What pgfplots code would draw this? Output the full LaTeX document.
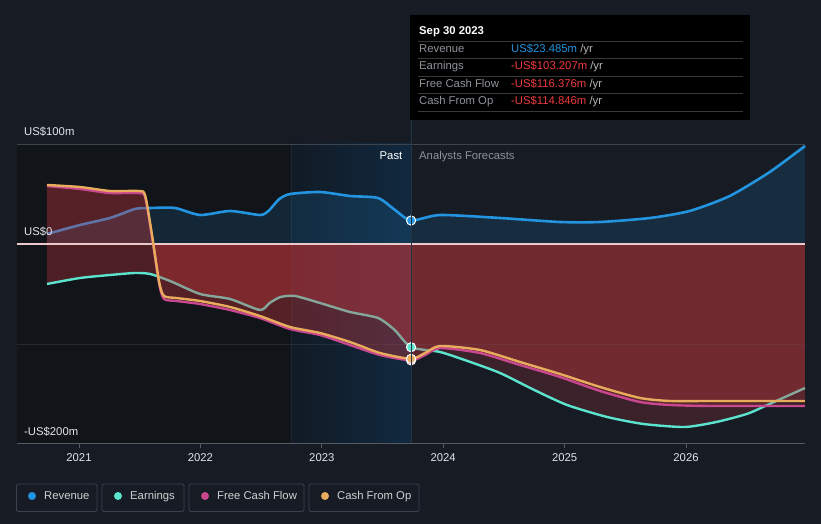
\documentclass[border=0pt]{standalone}
\usepackage{fontspec}
\setmainfont{Liberation Sans}
\usepackage{pgfplots}
\pgfplotsset{compat=1.18}
\definecolor{bg}{HTML}{161B24}
\definecolor{pastdark}{HTML}{111419}
\definecolor{hlL}{HTML}{111A25}
\definecolor{hlR}{HTML}{11293F}
\definecolor{gridc}{HTML}{3E444E}
\definecolor{axisc}{HTML}{555A63}
\definecolor{zeroc}{HTML}{EBC9C9}
\definecolor{revc}{HTML}{2394DF}
\definecolor{earnc}{HTML}{5BE3CE}
\definecolor{fcfc}{HTML}{C8478E}
\definecolor{cfoc}{HTML}{E9AB5C}
\definecolor{redfill}{HTML}{D13A40}
\definecolor{txt}{HTML}{E2E4E8}
\definecolor{gtxt}{HTML}{8E939A}
\definecolor{negc}{HTML}{EE3B3F}
\definecolor{legb}{HTML}{3C424D}

\pgfplotstableread{
x y
2020.736 10
2021.008 19
2021.255 26
2021.46 35
2021.585 36
2021.79 36
2021.997 29
2022.244 33
2022.49 29
2022.56 33
2022.65 45
2022.74 50
2022.985 52
2023.232 48
2023.463 46
2023.603 34
2023.735 23.485
2023.974 29
2024.468 26
2024.962 22
2025.292 22
2025.703 26
2026.03 33
2026.36 48
2026.69 72
2026.98 98
}\revenue

\pgfplotstableread{
x y
2020.736 -40
2021.008 -34
2021.255 -31
2021.46 -29
2021.585 -30
2021.75 -37
2021.997 -50
2022.244 -55
2022.49 -66
2022.57 -59
2022.66 -53
2022.78 -52
2022.985 -59
2023.232 -68
2023.463 -74
2023.6 -86
2023.735 -103.207
2023.974 -108
2024.2 -117
2024.468 -129
2024.75 -146
2025.02 -161
2025.35 -173
2025.65 -180
2025.99 -183
2026.25 -178
2026.5 -170
2026.67 -161
2026.98 -144
}\earnings

\pgfplotstableread{
x y
2020.736 58
2021.008 55
2021.255 51
2021.49 51
2021.544 47
2021.6 8
2021.66 -40
2021.70 -55
2021.8 -57
2021.997 -60
2022.244 -66
2022.49 -74
2022.738 -85
2022.985 -91
2023.232 -101
2023.479 -111
2023.735 -116.376
2023.85 -111
2023.974 -104
2024.303 -109
2024.633 -121
2024.962 -133
2025.292 -147
2025.621 -158
2025.868 -161
2026.2 -162
2026.98 -162
}\fcf

\pgfplotstableread{
x y
2020.736 59
2021.008 57
2021.255 53
2021.49 53
2021.544 49
2021.6 10
2021.66 -38
2021.70 -52
2021.8 -54
2021.997 -57
2022.244 -63
2022.49 -72
2022.738 -83
2022.985 -89
2023.232 -98
2023.479 -109
2023.735 -114.846
2023.85 -109
2023.974 -102
2024.303 -106
2024.633 -118
2024.962 -130
2025.292 -143
2025.621 -154
2025.868 -157
2026.2 -157
2026.98 -157
}\cfo

\begin{document}
\begin{tikzpicture}[font=\fontsize{11.3pt}{13pt}\selectfont]
% ---------- background (pixel coordinates) ----------
\begin{scope}[x=1pt,y=-1pt,yshift=524pt]
\fill[bg] (0,0) rectangle (821,524);
\fill[pastdark] (17,144) rectangle (291,444);
\shade[left color=hlL, right color=hlR] (291,144) rectangle (411,444);
\draw[color=hlL!70!gridc, line width=0.6pt] (291,144) -- (291,444);
\draw[gridc, line width=0.9pt] (17,144) -- (805,144);
\end{scope}

\begin{axis}[at={(0,0)}, anchor=south west, scale only axis,
  width=821pt, height=524pt,
  xmin=2020.349, xmax=2027.112, ymin=-280, ymax=244,
  hide axis, clip=false]
% revenue and earnings fills
\addplot[draw=none, fill=revc, fill opacity=0.15, smooth, tension=0.4] table[x=x,y=y] {\revenue} \closedcycle;
\addplot[draw=none, fill=redfill, fill opacity=0.2, smooth, tension=0.4] table[x=x,y=y] {\earnings} \closedcycle;
% past region: brighter red
\begin{scope}
\clip (axis cs:2020.489,-200) rectangle (axis cs:2023.735,100);
\addplot[draw=none, fill=redfill, fill opacity=0.15, smooth, tension=0.4] table[x=x,y=y] {\earnings} \closedcycle;
\end{scope}
% grid line -100
\draw[color=gridc, opacity=0.45, line width=0.8pt] (axis cs:2020.489,-100) -- (axis cs:2026.98,-100);
% revenue and earnings lines (under the cash flow fills)
\addplot[earnc, line width=2.4pt, smooth, tension=0.4] table[x=x,y=y] {\earnings};
\addplot[revc, line width=2.6pt, smooth, tension=0.4] table[x=x,y=y] {\revenue};
% cash flow fills
\addplot[draw=none, fill=redfill, fill opacity=0.2, smooth, tension=0.4] table[x=x,y=y] {\fcf} \closedcycle;
\addplot[draw=none, fill=redfill, fill opacity=0.2, smooth, tension=0.4] table[x=x,y=y] {\cfo} \closedcycle;
% zero line
\draw[color=zeroc, line width=1.2pt] (axis cs:2020.489,0) -- (axis cs:2026.98,0);
% cash flow lines
\addplot[fcfc, line width=2.4pt, smooth, tension=0.4] table[x=x,y=y] {\fcf};
\addplot[cfoc, line width=2.4pt, smooth, tension=0.4] table[x=x,y=y] {\cfo};
% markers at Sep 30 2023
\addplot[only marks, mark=*, mark size=4.6pt, mark options={fill=revc, draw=white, line width=1pt}] coordinates {(2023.735,23.485)};
\addplot[only marks, mark=*, mark size=4.6pt, mark options={fill=earnc, draw=white, line width=1pt}] coordinates {(2023.735,-103.207)};
\addplot[only marks, mark=*, mark size=4.6pt, mark options={fill=fcfc, draw=white, line width=1pt}] coordinates {(2023.735,-116.376)};
\addplot[only marks, mark=*, mark size=4.6pt, mark options={fill=cfoc, draw=white, line width=1pt}] coordinates {(2023.735,-114.846)};
\end{axis}

% ---------- decorations (pixel coordinates) ----------
\begin{scope}[x=1pt,y=-1pt,yshift=524pt]
% present line
\draw[color=hlR!60!gridc, line width=0.8pt] (411,120) -- (411,444);
% x axis
\draw[axisc, line width=1pt] (17,444) -- (805,444);
\foreach \px/\yr in {79/2021, 200.4/2022, 321.8/2023, 443.2/2024, 564.6/2025, 686/2026}{
  \draw[axisc, line width=0.8pt] (\px,444) -- (\px,448);
  \node[text=txt, anchor=base, inner sep=0pt] at (\px,461.5) {\yr};
}
% y labels
\node[text=txt, anchor=base west, inner sep=0pt] at (24,136) {US\$100m};
\node[text=txt, anchor=base west, inner sep=0pt] at (24,236) {US\$0};
\node[text=txt, anchor=base west, inner sep=0pt] at (24,436) {-US\$200m};
% past / forecast
\node[text=white, anchor=base east, inner sep=0pt] at (402.5,160) {Past};
\node[text=gtxt, anchor=base west, inner sep=0pt] at (419,160) {Analysts Forecasts};
% tooltip
\fill[black] (410,15) rectangle (750,120);
\node[text=white, anchor=base west, inner sep=0pt] at (419,35) {\bfseries Sep 30 2023};
\foreach \yy in {41,58,76,93,111}{\draw[color=white!22!black, line width=0.8pt] (418,\yy) -- (743,\yy);}
\node[text=gtxt, anchor=base west, inner sep=0pt] at (419,53) {Revenue};
\node[text=gtxt, anchor=base west, inner sep=0pt] at (419,70) {Earnings};
\node[text=gtxt, anchor=base west, inner sep=0pt] at (419,88) {Free Cash Flow};
\node[text=gtxt, anchor=base west, inner sep=0pt] at (419,105) {Cash From Op};
\node[anchor=base west, inner sep=0pt] at (511,53) {\textcolor{revc}{US\$23.485m} \textcolor{white!72!black}{/yr}};
\node[anchor=base west, inner sep=0pt] at (511,70) {\textcolor{negc}{-US\$103.207m} \textcolor{white!72!black}{/yr}};
\node[anchor=base west, inner sep=0pt] at (511,88) {\textcolor{negc}{-US\$116.376m} \textcolor{white!72!black}{/yr}};
\node[anchor=base west, inner sep=0pt] at (511,105) {\textcolor{negc}{-US\$114.846m} \textcolor{white!72!black}{/yr}};
% legend
\foreach \xa/\xb/\dx/\tx/\col/\lab in {16.5/97/32/44/revc/Revenue, 102/184/118/130/earnc/Earnings, 189/304/205/217/fcfc/Free Cash Flow, 309/419/325/337/cfoc/Cash From Op}{
  \draw[legb, line width=0.8pt, rounded corners=1.5pt] (\xa,484) rectangle (\xb,511.5);
  \fill[\col] (\dx,496) circle (4pt);
  \node[text=white!82!black, anchor=base west, inner sep=0pt] at (\tx,500) {\lab};
}
\end{scope}
\end{tikzpicture}
\end{document}
